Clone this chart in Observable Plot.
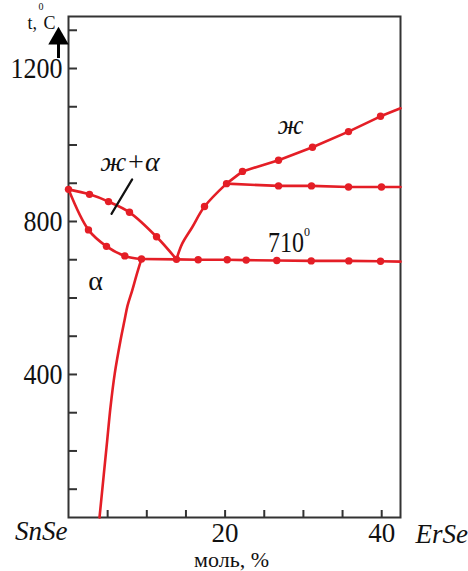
<!DOCTYPE html>
<html><head><meta charset="utf-8">
<script src="https://cdn.jsdelivr.net/npm/d3@7"></script>
<script src="https://cdn.jsdelivr.net/npm/@observablehq/plot@0.6"></script>
<style>html,body{margin:0;padding:0;background:#fff;} #chart{width:468px;height:571px;} #chart svg text{font-family:"Liberation Serif","Times New Roman",serif;}</style>
</head><body><div id="chart"></div>
<script>
// ---- axes ----
const xTicks = [5, 10, 15, 20, 25, 30, 35, 40];
const xTickLabels = [20, 40];
const yTicks = [100, 200, 300, 400, 500, 600, 700, 800, 900, 1000, 1100, 1200, 1300];
const yTickLabels = [400, 800, 1200];
const xStartName = ["SnSe"];
const xEndName = ["ErSe"];
const xTitle = ["моль, %"];
const yTitleMain = ["t,"];
const yTitleSup = ["0"];
const yTitleUnit = ["C"];

// ---- phase boundaries (mol % ErSe, °C); dot: 1 = experimental point ----
const liqLeftX   = [0, 2.68, 5.11, 7.79, 11.24, 13.79];
const liqLeftY   = [884, 871, 852, 824, 760, 701];
const liqLeftDot = [1, 1, 1, 1, 1, 1];

const solidusX   = [0, 2.55, 4.85, 7.19, 9.32];
const solidusY   = [884, 778, 735, 710, 702];
const solidusDot = [0, 1, 1, 1, 1];

const solvusX    = [9.32, 8.68, 8.14, 7.54, 7.15, 6.64, 5.91, 5.36, 4.94, 3.96];
const solvusY    = [702, 659, 620, 580, 541, 489, 403, 314, 227, 26];

const liqRightAX   = [13.79, 14.52, 15.80, 17.37, 20.18];
const liqRightAY   = [701, 742, 785, 839, 899];
const liqRightADot = [0, 0, 0, 1, 1];

const liqRightBX   = [20.18, 22.22, 26.82, 31.16, 35.76, 39.85, 42.4];
const liqRightBY   = [899, 931, 960, 994, 1035, 1075, 1096];
const liqRightBDot = [0, 1, 1, 1, 1, 1, 0];

const upperX   = [20.18, 26.82, 31.03, 35.76, 39.97, 42.4];
const upperY   = [899, 893, 893, 890, 890, 890];
const upperDot = [0, 1, 1, 1, 1, 0];

const eutX   = [9.32, 13.79, 16.56, 20.27, 22.69, 26.6, 31.0, 35.8, 39.85, 42.4];
const eutY   = [702, 701, 700, 700, 699, 698, 697, 697, 696, 695];
const eutDot = [0, 0, 1, 1, 1, 1, 1, 1, 1, 0];

// ---- annotations ----
const pointerX = [8.13, 5.49];
const pointerY = [910, 820];
const twoPhaseText = ["ж+α"], twoPhaseX = [7.85], twoPhaseY = [933];
const liquidText = ["ж"], liquidX = [28.35], liquidY = [1030];
const alphaText = ["α"], alphaX = [3.45], alphaY = [620];
const eutText = ["710"], eutLabelX = [27.78], eutLabelY = [719];
const eutSupText = ["0"], eutSupX = [30.46], eutSupY = [763];

const red = "#e41e26";
const ink = "#111";
const axisColor = "#333";
const serif = "Liberation Serif";
const pts = (X, Y) => X.map((x, i) => ({x, y: Y[i]}));
const dotted = (X, Y, D) => X.map((x, i) => ({x, y: Y[i], d: D[i]})).filter(p => p.d);
const dots = [
  ...dotted(liqLeftX, liqLeftY, liqLeftDot),
  ...dotted(solidusX, solidusY, solidusDot),
  ...dotted(liqRightAX, liqRightAY, liqRightADot),
  ...dotted(liqRightBX, liqRightBY, liqRightBDot),
  ...dotted(upperX, upperY, upperDot),
  ...dotted(eutX, eutY, eutDot)
];
const lineOpts = {x: "x", y: "y", stroke: red, strokeWidth: 2.6};
const label = (T, X, Y, opts) => Plot.text(T, {x: (d, i) => X[i], y: (d, i) => Y[i], text: d => d, lineAnchor: "bottom", fill: ink, fontFamily: serif, ...opts});

const chart = Plot.plot({
  width: 468, height: 571,
  marginLeft: 68, marginRight: 68, marginTop: 16, marginBottom: 54,
  x: {domain: [0, 42.4], axis: null},
  y: {domain: [26, 1336], axis: null},
  style: {fontFamily: serif, background: "white", overflow: "visible", color: ink},
  marks: [
    Plot.tickY(yTicks, {y: d => d, insetRight: 323, stroke: axisColor, strokeWidth: 2}),
    Plot.tickX(xTicks, {x: d => d, insetTop: 494, stroke: axisColor, strokeWidth: 2}),
    Plot.frame({stroke: axisColor, strokeWidth: 2}),
    Plot.line(pts(solvusX, solvusY), {...lineOpts, curve: "catmull-rom"}),
    Plot.line(pts(solidusX, solidusY), {...lineOpts, curve: "catmull-rom"}),
    Plot.line(pts(liqLeftX, liqLeftY), {...lineOpts, curve: "catmull-rom"}),
    Plot.line(pts(liqRightAX, liqRightAY), {...lineOpts, curve: "catmull-rom"}),
    Plot.line(pts(liqRightBX, liqRightBY), {...lineOpts}),
    Plot.line(pts(upperX, upperY), {...lineOpts}),
    Plot.line(pts(eutX, eutY), {...lineOpts}),
    Plot.dot(dots, {x: "x", y: "y", r: 3.7, fill: red}),
    Plot.line(pts(pointerX, pointerY), {x: "x", y: "y", stroke: ink, strokeWidth: 2.2}),
    // y tick labels
    Plot.text(yTickLabels, {y: d => d, text: d => String(d), frameAnchor: "left", dx: -6, textAnchor: "end", lineAnchor: "middle", fontSize: 26, fontFamily: serif, fill: ink}),
    // x tick labels
    Plot.text(xTickLabels, {x: d => d, text: d => String(d), frameAnchor: "bottom", dy: 24, lineAnchor: "bottom", fontSize: 27, fontFamily: serif, fill: ink}),
    Plot.text(xStartName, {x: () => 0, text: d => d, frameAnchor: "bottom", dy: 22, dx: -1, textAnchor: "end", lineAnchor: "bottom", fontSize: 27, fontStyle: "italic", fontFamily: serif, fill: ink}),
    Plot.text(xEndName, {text: d => d, frameAnchor: "bottom-right", dx: 15, dy: 25, textAnchor: "start", lineAnchor: "bottom", fontSize: 27, fontStyle: "italic", fontFamily: serif, fill: ink}),
    Plot.text(xTitle, {text: d => d, frameAnchor: "bottom", dx: -3, dy: 49, lineAnchor: "bottom", fontSize: 22, fontFamily: serif, fill: ink}),
    // y title  t,°C  with arrow
    Plot.text(yTitleMain, {text: d => d, frameAnchor: "top-left", dx: -41, dy: 12, textAnchor: "start", lineAnchor: "bottom", fontSize: 18, fontFamily: serif, fill: ink}),
    Plot.text(yTitleSup, {text: d => d, frameAnchor: "top-left", dx: -30, dy: -7, textAnchor: "start", lineAnchor: "bottom", fontSize: 10, fontFamily: serif, fill: ink}),
    Plot.text(yTitleUnit, {text: d => d, frameAnchor: "top-left", dx: -25, dy: 12, textAnchor: "start", lineAnchor: "bottom", fontSize: 18, fontFamily: serif, fill: ink}),
    Plot.ruleX([0], {x: d => d, dx: -10, insetTop: 28, insetBottom: 459, stroke: "#000", strokeWidth: 3}),
    Plot.dot([0], {x: d => d, frameAnchor: "top", dx: -10, dy: 22, symbol: "triangle", r: 7.6, fill: "#000"}),
    // region labels
    label(twoPhaseText, twoPhaseX, twoPhaseY, {fontSize: 28, fontStyle: "italic"}),
    label(liquidText, liquidX, liquidY, {fontSize: 28, fontStyle: "italic"}),
    label(alphaText, alphaX, alphaY, {fontSize: 28}),
    label(eutText, eutLabelX, eutLabelY, {fontSize: 24}),
    label(eutSupText, eutSupX, eutSupY, {fontSize: 12})
  ]
});
document.getElementById("chart").appendChild(chart);

// vertical stretch of some labels, as in the reference
const stretch = {"400": 1.1, "800": 1.1, "1200": 1.1, "710": 1.2};
chart.querySelectorAll("text").forEach(t => {
  const s = stretch[t.textContent];
  if (!s) return;
  const tr = t.getAttribute("transform");
  if (tr) t.setAttribute("transform", tr + ` scale(1,${s})`);
  else {
    const x = +t.getAttribute("x") || 0, y = +t.getAttribute("y") || 0;
    t.setAttribute("transform", `translate(${x},${y}) scale(1,${s}) translate(${-x},${-y})`);
  }
});
</script></body></html>
